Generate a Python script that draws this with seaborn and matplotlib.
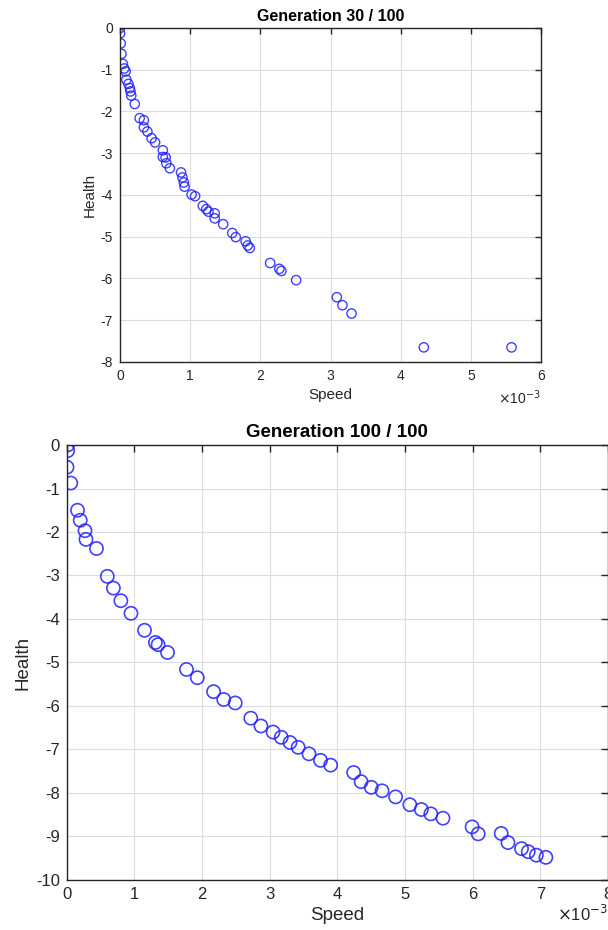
import numpy as np
import pandas as pd
import matplotlib
matplotlib.use('Agg')
import matplotlib.pyplot as plt
import seaborn as sns

# generation 30 (speed in units of 1e-3)
speed_g30 = [0.0, 0.0, 0.01, 0.02, 0.04, 0.06, 0.08, 0.09, 0.12, 0.14, 0.15, 0.16, 0.21,
             0.28, 0.34, 0.34, 0.39, 0.45, 0.50, 0.61, 0.61, 0.65, 0.66, 0.71,
             0.87, 0.89, 0.91, 0.92, 1.02, 1.07, 1.18, 1.23, 1.26, 1.35, 1.35, 1.47,
             1.60, 1.65, 1.79, 1.82, 1.85, 2.14, 2.27, 2.30, 2.51, 3.09, 3.17, 3.30,
             4.33, 5.58]
health_g30 = [0.0, -0.13, -0.37, -0.62, -0.86, -0.97, -1.04, -1.24, -1.34, -1.44, -1.52, -1.62, -1.82,
              -2.16, -2.21, -2.38, -2.48, -2.64, -2.74, -2.93, -3.09, -3.10, -3.24, -3.36,
              -3.46, -3.58, -3.70, -3.80, -3.99, -4.03, -4.26, -4.34, -4.40, -4.44, -4.56, -4.70,
              -4.91, -5.01, -5.11, -5.21, -5.27, -5.63, -5.77, -5.82, -6.04, -6.45, -6.64, -6.84,
              -7.65, -7.65]

# generation 100
speed_g100 = [0.015, 0.015, 0.005, 0.06, 0.16, 0.20, 0.27, 0.285, 0.44, 0.60, 0.69, 0.80,
              0.95, 1.15, 1.31, 1.35, 1.49, 1.77, 1.93, 2.17, 2.32, 2.49, 2.72, 2.87,
              3.05, 3.17, 3.30, 3.42, 3.58, 3.75, 3.90, 4.24, 4.35, 4.50, 4.66, 4.86,
              5.07, 5.24, 5.38, 5.56, 5.99, 6.08, 6.42, 6.52, 6.72, 6.82, 6.94, 7.08]
health_g100 = [0.0, -0.13, -0.51, -0.875, -1.5, -1.73, -1.97, -2.17, -2.38, -3.02, -3.29, -3.58,
               -3.87, -4.26, -4.54, -4.59, -4.77, -5.16, -5.35, -5.67, -5.85, -5.93, -6.28, -6.46,
               -6.60, -6.72, -6.84, -6.95, -7.10, -7.25, -7.36, -7.53, -7.74, -7.87, -7.95, -8.09,
               -8.27, -8.38, -8.48, -8.58, -8.78, -8.94, -8.93, -9.14, -9.28, -9.35, -9.43, -9.48]

sns.set_style('white')
plt.rcParams['font.family'] = ['Liberation Sans', 'DejaVu Sans']
plt.rcParams['axes.unicode_minus'] = False

txt = '#262626'


def style_axes(ax, xmax, ymin, fs, ticklen):
    ax.set_xlim(0, xmax)
    ax.set_ylim(ymin, 0)
    ax.set_xticks(range(0, xmax + 1))
    ax.set_yticks(range(ymin, 1))
    ax.grid(True, color='#dcdcdc', linewidth=0.8)
    ax.set_axisbelow(True)
    ax.tick_params(direction='in', top=True, right=True, length=ticklen, width=1,
                   color=txt, labelcolor=txt, labelsize=fs, pad=5)
    for sp in ax.spines.values():
        sp.set_visible(True)
        sp.set_color(txt)
        sp.set_linewidth(1)


fig = plt.figure(figsize=(6.08, 9.3), dpi=100)

# top panel
ax1 = fig.add_axes([0.1974, 0.6108, 0.6924, 0.3591])
df30 = pd.DataFrame({'Speed': speed_g30, 'Health': health_g30})
sns.scatterplot(data=df30, x='Speed', y='Health', ax=ax1, s=45, marker='o',
                facecolor='none', edgecolor='#2020ff', linewidth=1, alpha=0.85)
style_axes(ax1, 6, -8, 10, 4)
ax1.set_title('Generation 30 / 100', fontsize=11.5, fontweight='bold', color='black', pad=5)
ax1.set_xlabel('Speed', fontsize=11, color=txt, labelpad=4)
ax1.set_ylabel('Health', fontsize=11, color=txt, labelpad=3)
ax1.text(1.0, -0.08, r'$\times$10$^{-3}$', transform=ax1.transAxes, ha='right', va='top',
         fontsize=10, color=txt)

# bottom panel
ax2 = fig.add_axes([0.1097, 0.0538, 0.8905, 0.4677])
df100 = pd.DataFrame({'Speed': speed_g100, 'Health': health_g100})
sns.scatterplot(data=df100, x='Speed', y='Health', ax=ax2, s=90, marker='o',
                facecolor='none', edgecolor='#2020ff', linewidth=1.2, alpha=0.85)
style_axes(ax2, 8, -10, 12, 5)
ax2.set_title('Generation 100 / 100', fontsize=13.5, fontweight='bold', color='black', pad=6)
ax2.set_xlabel('Speed', fontsize=13.5, color=txt, labelpad=4)
ax2.set_ylabel('Health', fontsize=13.5, color=txt, labelpad=3)
ax2.text(1.0, -0.055, r'$\times$10$^{-3}$', transform=ax2.transAxes, ha='right', va='top',
         fontsize=12, color=txt)

fig.savefig('out.png', dpi=100)
